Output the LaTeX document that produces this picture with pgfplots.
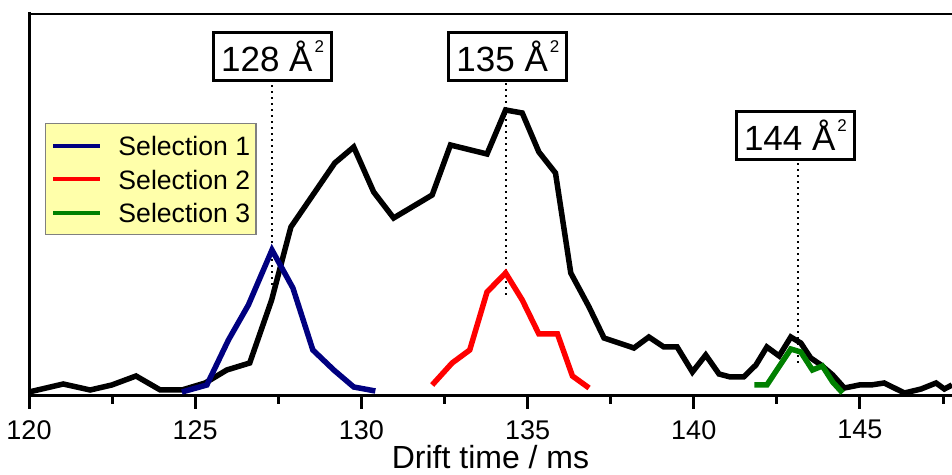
\documentclass[border=0pt]{standalone}
\usepackage{fontspec}
\setmainfont{Liberation Sans}
\usepackage{pgfplots}
\pgfplotsset{compat=1.18}
\definecolor{selblue}{RGB}{0,0,128}
\definecolor{selred}{RGB}{255,0,0}
\definecolor{selgreen}{RGB}{0,128,0}
\definecolor{legyellow}{RGB}{255,255,170}

\pgfplotstableread{
x y
120.00 4
121.03 12
121.84 6
122.49 11
123.22 20
123.95 6
124.60 6
125.30 13
125.95 26
126.64 33
127.30 96
127.88 169
129.20 233
129.77 249
130.37 204
130.97 178
132.13 201
132.68 251
133.78 242
134.34 286
134.84 283
135.34 244
135.84 223
136.30 123
136.85 89
137.30 58
138.20 48
138.65 59
139.10 49
139.50 49
139.96 24
140.36 41
140.76 22
141.10 19
141.50 19
141.87 31
142.20 49
142.57 40
142.92 59
143.22 53
143.52 38
143.83 31
144.18 21
144.53 8
144.98 11
145.33 11
145.73 13
146.34 3
146.84 7
147.29 13
147.54 7
147.77 11
}\total

\newcommand{\angsq}{Å\kern1pt\raisebox{9.5pt}{\fontsize{8.5}{9}\selectfont 2}}

\begin{document}
\begin{tikzpicture}
\begin{axis}[
  scale only axis, width=461.5pt, height=191pt,
  xmin=120, xmax=147.77, ymin=0, ymax=382,
  axis x line*=bottom, axis y line*=left,
  axis line style={line width=1.5pt, line cap=rect},
  xtick={120,125,...,145}, minor xtick={122.5,127.5,...,147.5},
  ytick=\empty,
  tick align=outside, major tick length=6.5pt, minor tick length=4pt,
  tick style={line width=1.5pt, black},
  tick label style={font=\fontsize{13.5}{15}\selectfont},
  xticklabel style={inner sep=0pt, yshift=-5.5pt},
  /pgf/number format/assume math mode=true,
  xlabel={Drift time / ms},
  xlabel style={font=\fontsize{16}{18}\selectfont, inner sep=0pt,
    at={(rel axis cs:0.5,0)}, anchor=base, yshift=-36.5pt},
  every axis plot/.append style={line width=2.75pt},
  legend cell align=left,
  legend style={at={(0.017,0.715)}, anchor=north west, fill=legyellow,
    draw=gray, line width=0.8pt, font=\fontsize{13.3}{16}\selectfont,
    inner xsep=3pt, inner ysep=6pt, row sep=6.75pt, column sep=8pt,
    nodes={inner sep=0pt, text height=10pt, text depth=0pt}},
  legend image code/.code={\draw[#1, line width=2pt] (0pt,0pt) -- (23.5pt,0pt);},
]
\coordinate (bl) at (rel axis cs:0,0);
\coordinate (tr) at (rel axis cs:1,1);
\draw[line width=1.5pt] (rel axis cs:0,1) -- (rel axis cs:1,1);

% dotted guide lines
\addplot[forget plot, black, line width=1pt, dash pattern=on 1pt off 2pt] coordinates {(127.30,111) (127.30,314)};
\addplot[forget plot, black, line width=1pt, dash pattern=on 1pt off 2pt] coordinates {(134.36,101) (134.36,314)};
\addplot[forget plot, black, line width=1pt, dash pattern=on 1pt off 2pt] coordinates {(143.13,33) (143.13,235)};

\addplot[forget plot, black] table {\total};
\addplot[selblue] coordinates {
  (124.60,4) (125.35,11) (126.00,56) (126.60,91) (127.31,146) (127.94,108)
  (128.54,46) (129.17,26) (129.77,9) (130.42,5)};
\addlegendentry{Selection 1}
\addplot[selred] coordinates {
  (132.13,11) (132.73,33) (133.26,46) (133.78,104) (134.34,123) (134.84,96)
  (135.34,62) (135.90,62) (136.35,20) (136.85,8)};
\addlegendentry{Selection 2}
\addplot[selgreen] coordinates {
  (141.82,11) (142.20,11) (142.92,47) (143.22,44) (143.57,26) (143.87,30)
  (144.18,14) (144.48,3)};
\addlegendentry{Selection 3}

\tikzset{ccs/.style={draw, line width=1.5pt, fill=white, anchor=south,
  font=\fontsize{17.5}{20}\selectfont, inner sep=0pt,
  minimum width=59pt, minimum height=24pt}}
\node[ccs] at (axis cs:127.33,314) {128 \angsq};
\node[ccs] at (axis cs:134.41,314) {135 \angsq};
\node[ccs] at (axis cs:143.06,235) {144 \angsq};
\end{axis}
\pgfresetboundingbox
\path[use as bounding box] ([xshift=-14.5pt,yshift=-39.5pt]bl) rectangle ([yshift=7pt]tr);
\end{tikzpicture}
\end{document}
